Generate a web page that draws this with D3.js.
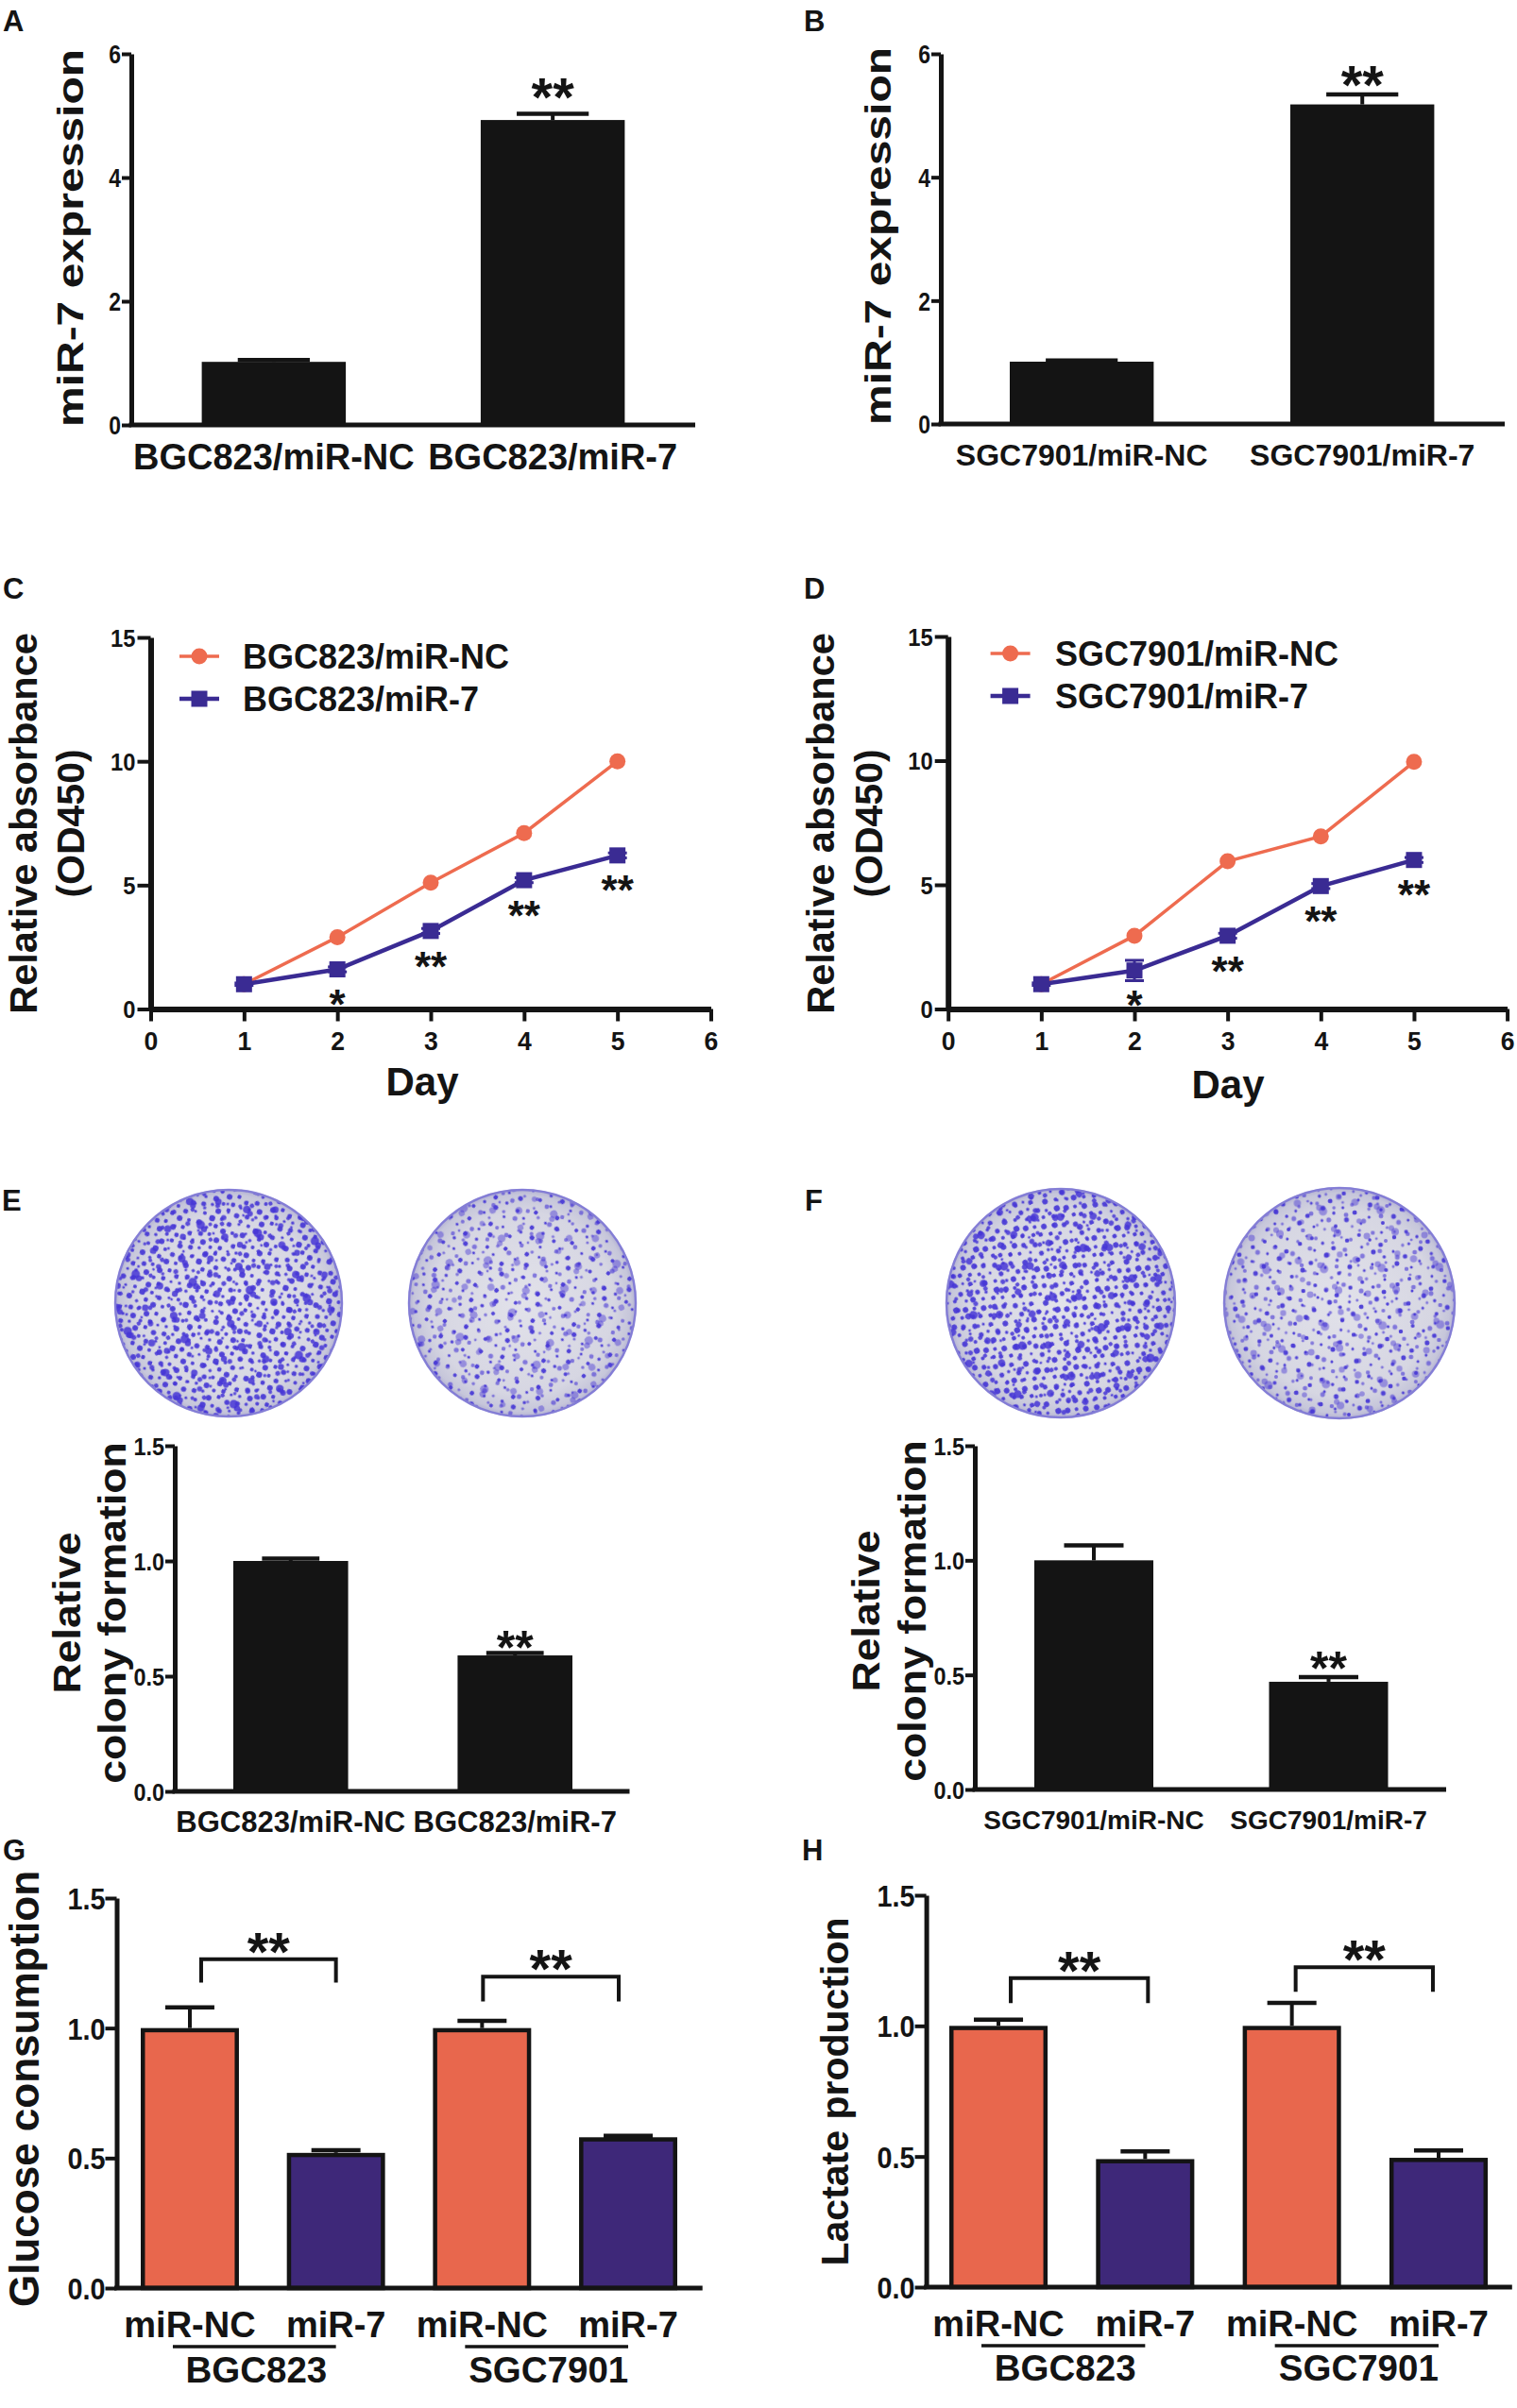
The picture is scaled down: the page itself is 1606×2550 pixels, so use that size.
<!DOCTYPE html>
<html><head><meta charset="utf-8">
<script src="https://cdn.jsdelivr.net/npm/d3@7"></script>
<style>
body{margin:0;background:#fff}
svg{display:block}
text{font-family:"Liberation Sans",Arial,Helvetica,sans-serif;font-weight:bold}
</style>
</head><body>
<svg id="fig" width="1606" height="2550"></svg>
<script>
// ---------------- DATA ----------------
const panelA_categories = ["BGC823/miR-NC", "BGC823/miR-7"];
const panelA_values = [1.02, 4.93];
const panelA_errors = [0.03, 0.10];
const panelA_signif = ["", "**"];

const panelB_categories = ["SGC7901/miR-NC", "SGC7901/miR-7"];
const panelB_values = [1.01, 5.18];
const panelB_errors = [0.02, 0.16];
const panelB_signif = ["", "**"];

const expr_yTicks = [0, 2, 4, 6];

const days = [1, 2, 3, 4, 5];
const day_xTicks = [0, 1, 2, 3, 4, 5, 6];
const absorb_yTicks = [0, 5, 10, 15];
const panelC_series = ["BGC823/miR-NC", "BGC823/miR-7"];
const panelC_nc = [1.0, 2.9, 5.1, 7.1, 10.0];
const panelC_mir7 = [1.0, 1.6, 3.15, 5.2, 6.2];
const panelC_mir7_err = [0.05, 0.1, 0.1, 0.1, 0.1];
const panelC_signif = ["", "*", "**", "**", "**"];
const panelD_series = ["SGC7901/miR-NC", "SGC7901/miR-7"];
const panelD_nc = [1.0, 2.95, 5.95, 6.95, 9.95];
const panelD_mir7 = [1.0, 1.55, 2.95, 4.95, 6.0];
const panelD_mir7_err = [0.05, 0.41, 0.1, 0.1, 0.1];
const panelD_signif = ["", "*", "**", "**", "**"];

const colony_yTicks = [0, 0.5, 1.0, 1.5];
const panelE_categories = ["BGC823/miR-NC", "BGC823/miR-7"];
const panelE_values = [1.0, 0.59];
const panelE_errors = [0.01, 0.01];
const panelE_signif = ["", "**"];
const panelF_categories = ["SGC7901/miR-NC", "SGC7901/miR-7"];
const panelF_values = [1.0, 0.47];
const panelF_errors = [0.065, 0.02];
const panelF_signif = ["", "**"];

const metab_categories = ["miR-NC", "miR-7", "miR-NC", "miR-7"];
const metab_groups = ["BGC823", "SGC7901"];
const metab_yTicks = [0, 0.5, 1.0, 1.5];
const panelG_values = [1.0, 0.52, 1.0, 0.58];
const panelG_errors = [0.08, 0.01, 0.028, 0.006];
const panelH_values = [1.0, 0.49, 1.0, 0.495];
const panelH_errors = [0.024, 0.03, 0.088, 0.028];
const metab_signif = ["**", "**"];

// ---------------- STYLE ----------------
const BLACK = "#141414";
const ORANGE_BAR = "#E8674D";
const PURPLE_BAR = "#3E2879";
const ORANGE_LINE = "#EE6B4F";
const PURPLE_LINE = "#3A2B93";
const DOT = "#4636D6";

const svg = d3.select("#fig");
svg.append("rect").attr("width", 1606).attr("height", 2550).attr("fill", "#fff");

function label(g, s, x, y, o = {}) {
  const size = o.size || 30, sx = o.sx || 1;
  let tr = `translate(${x},${y}) scale(${sx},1)`;
  if (o.rot) tr += ` rotate(${o.rot})`;
  return g.append("text").text(s)
    .attr("font-size", size)
    .attr("text-anchor", o.anchor || "middle")
    .attr("fill", o.fill || BLACK)
    .attr("transform", tr);
}
function stars(g, s, cx, cy, size) {
  return label(g, s, cx, cy + size * 0.56, { size });
}
function yAxis(g, y, p) {
  const ax = g.append("g").attr("transform", `translate(${p.axX},0)`)
    .call(d3.axisLeft(y).tickValues(p.ticks).tickFormat(p.fmt).tickSize(p.tickLen).tickSizeOuter(0));
  ax.attr("font-family", null).attr("font-size", null);
  ax.select(".domain").attr("stroke", BLACK).attr("stroke-width", p.axisW || 5);
  ax.selectAll(".tick line").attr("stroke", BLACK).attr("stroke-width", 4);
  ax.selectAll(".tick text")
    .attr("x", null).attr("dy", null).attr("fill", BLACK)
    .attr("font-size", p.tickFont)
    .attr("transform", `translate(${-(p.tickLen + (p.tickGap ?? 2))},${p.tickFont * 0.36}) scale(${p.tickSx},1)`);
  return ax;
}
function yTitles(g, p) {
  p.titles.forEach(t => label(g, t.text, t.x, p.titleY, { size: t.size, sx: t.sx || 1, rot: -90 }));
}

// ---------------- BAR PANELS ----------------
function barPanel(p) {
  const g = svg.append("g");
  const y = d3.scaleLinear().domain([0, p.yMax]).range([p.y0, p.y1]);
  const x = d3.scaleBand().domain(p.values.map((d, i) => i)).range(p.barRange)
    .paddingInner(p.padIn).paddingOuter(0);
  const bw = x.bandwidth();
  const xc = i => x(i) + bw / 2;
  const sw = p.barStroke || 0;
  g.selectAll(".bar").data(p.values).join("rect").attr("class", "bar")
    .attr("x", (d, i) => x(i) + sw / 2).attr("width", bw - sw)
    .attr("y", d => y(d) + sw / 2).attr("height", d => y(0) - y(d) - sw / 2)
    .attr("fill", (d, i) => p.fills[i])
    .attr("stroke", sw ? BLACK : "none").attr("stroke-width", sw);
  const eb = g.selectAll(".err").data(p.values).join("g").attr("class", "err");
  eb.append("line")
    .attr("x1", (d, i) => xc(i)).attr("x2", (d, i) => xc(i))
    .attr("y1", d => y(d)).attr("y2", (d, i) => y(d + p.errors[i]))
    .attr("stroke", BLACK).attr("stroke-width", 4);
  eb.append("line")
    .attr("x1", (d, i) => xc(i) - bw / 4).attr("x2", (d, i) => xc(i) + bw / 4)
    .attr("y1", (d, i) => y(d + p.errors[i])).attr("y2", (d, i) => y(d + p.errors[i]))
    .attr("stroke", BLACK).attr("stroke-width", 4.5);
  yAxis(g, y, p);
  g.append("line").attr("x1", p.axX - 2.5).attr("x2", p.xEnd)
    .attr("y1", y(0)).attr("y2", y(0)).attr("stroke", BLACK).attr("stroke-width", 5);
  if (p.categories) {
    p.categories.forEach((c, i) => label(g, c, xc(i), p.labelY, { size: p.labelFont, sx: p.labelSx || 1 }));
  }
  if (p.signif) {
    p.signif.forEach((s, i) => { if (s) stars(g, s, xc(i), y(p.values[i] + p.errors[i]) - p.starGap, p.starFont); });
  }
  yTitles(g, p);
  return { g, x, y, xc, bw };
}

function metabPanel(p) {
  const r = barPanel(p);
  const { g, y, xc } = r;
  metab_categories.forEach((c, i) => label(g, c, xc(i), p.catY, { size: p.catFont }));
  metab_groups.forEach((grp, k) => {
    const a = xc(2 * k), b = xc(2 * k + 1);
    g.append("line").attr("x1", a - 18).attr("x2", b).attr("y1", p.underY).attr("y2", p.underY)
      .attr("stroke", BLACK).attr("stroke-width", 3.5);
    label(g, grp, (a - 18 + b) / 2 + 2, p.groupY, { size: p.groupFont });
  });
  p.brackets.forEach((br, k) => {
    const a = xc(2 * k) + br.dl, b = xc(2 * k + 1) + br.dr;
    g.append("path")
      .attr("d", `M${a},${y(br.leg)}V${y(br.top)}H${b}V${y(br.leg)}`)
      .attr("fill", "none").attr("stroke", BLACK).attr("stroke-width", 4);
    stars(g, metab_signif[k], (a + b) / 2, y(br.star), p.starFont);
  });
}

// ---------------- LINE PANELS ----------------
function linePanel(p) {
  const g = svg.append("g");
  const x = d3.scaleLinear().domain([0, 6]).range([p.x0, p.x6]);
  const y = d3.scaleLinear().domain([0, 15]).range([p.y0, p.y15]);
  const line = d3.line().x((d, i) => x(days[i])).y(d => y(d));
  g.append("path").attr("d", line(p.nc)).attr("fill", "none")
    .attr("stroke", ORANGE_LINE).attr("stroke-width", 3.5);
  g.selectAll(".nc").data(p.nc).join("circle").attr("class", "nc")
    .attr("cx", (d, i) => x(days[i])).attr("cy", d => y(d)).attr("r", 8.5).attr("fill", ORANGE_LINE);
  const eg = g.selectAll(".merr").data(p.mir7).join("g").attr("class", "merr");
  eg.append("line").attr("x1", (d, i) => x(days[i])).attr("x2", (d, i) => x(days[i]))
    .attr("y1", (d, i) => y(d - p.err[i])).attr("y2", (d, i) => y(d + p.err[i]))
    .attr("stroke", PURPLE_LINE).attr("stroke-width", 3);
  [1, -1].forEach(sg => eg.append("line")
    .attr("x1", (d, i) => x(days[i]) - 10).attr("x2", (d, i) => x(days[i]) + 10)
    .attr("y1", (d, i) => y(d + sg * p.err[i])).attr("y2", (d, i) => y(d + sg * p.err[i]))
    .attr("stroke", PURPLE_LINE).attr("stroke-width", 3));
  g.append("path").attr("d", line(p.mir7)).attr("fill", "none")
    .attr("stroke", PURPLE_LINE).attr("stroke-width", 4.5);
  g.selectAll(".m7").data(p.mir7).join("rect").attr("class", "m7")
    .attr("x", (d, i) => x(days[i]) - 8.5).attr("y", d => y(d) - 8.5)
    .attr("width", 17).attr("height", 17).attr("fill", PURPLE_LINE);
  p.signif.forEach((s, i) => { if (s) stars(g, s, x(days[i]), y(p.mir7[i]) + 28, 44); });

  yAxis(g, y, { axX: p.x0, ticks: absorb_yTicks, fmt: d3.format("d"), tickLen: 14, tickGap: 2, tickFont: 25, tickSx: 0.95, axisW: 6 });
  const xa = g.append("g").attr("transform", `translate(0,${p.y0})`)
    .call(d3.axisBottom(x).tickValues(day_xTicks).tickFormat(d3.format("d")).tickSize(13).tickSizeOuter(0));
  xa.attr("font-family", null).attr("font-size", null);
  xa.select(".domain").attr("stroke", BLACK).attr("stroke-width", 6);
  xa.selectAll(".tick line").attr("stroke", BLACK).attr("stroke-width", 4);
  xa.selectAll(".tick text").attr("y", null).attr("dy", null).attr("fill", BLACK)
    .attr("font-size", 28).attr("transform", `translate(0,43.5) scale(0.95,1)`);
  label(g, "Day", p.dayX, p.dayY, { size: 42 });
  yTitles(g, p);

  // legend
  const rows = [
    { name: p.series[0], y: p.legY[0], color: ORANGE_LINE, shape: "circle", w: 3.5 },
    { name: p.series[1], y: p.legY[1], color: PURPLE_LINE, shape: "square", w: 4.5 }
  ];
  rows.forEach(r => {
    g.append("line").attr("x1", p.legX - 21).attr("x2", p.legX + 21).attr("y1", r.y).attr("y2", r.y)
      .attr("stroke", r.color).attr("stroke-width", r.w);
    if (r.shape === "circle") g.append("circle").attr("cx", p.legX).attr("cy", r.y).attr("r", 8.5).attr("fill", r.color);
    else g.append("rect").attr("x", p.legX - 8.5).attr("y", r.y - 8.5).attr("width", 17).attr("height", 17).attr("fill", r.color);
    label(g, r.name, p.legTextX, r.y + 13, { size: 36, anchor: "start" });
  });
}

// ---------------- DISH TEXTURES (decoration) ----------------
const denseDots = [[3,4,2.6],[12,2,1.8],[20,7,3],[30,3,2.2],[40,6,2.8],[45,14,1.6],[7,13,2],[16,16,3.2],[26,14,2],[35,17,2.6],[4,24,3],[13,27,1.8],[22,23,2.4],[31,26,3],[41,25,2],[9,35,2.6],[18,33,2],[27,37,3],[37,34,2.2],[46,38,2.6],[3,44,1.8],[14,43,3],[23,46,2],[33,44,2.4],[42,45,1.6]];
const sparseDots = [[5,6,2],[18,4,1.6],[31,9,2.4],[43,3,1.5],[10,19,2.2],[25,21,1.6],[38,18,2.6],[4,32,1.6],[17,34,2.4],[30,31,1.8],[44,30,2],[11,45,1.8],[24,42,2.6],[37,44,1.6]];
const fillerDots = [[4,5,2],[15,11,2.4],[27,4,1.6],[33,19,2.2],[8,24,1.8],[21,29,2.6],[31,33,1.6],[2,15,1.4]];
const clumpDots = [[10,12,4],[14,16,3],[40,8,3.5],[25,35,4.5],[29,39,3.2],[52,44,3.8],[8,50,3.2],[48,24,2.8]];

const defs = svg.append("defs");
const grad = defs.append("radialGradient").attr("id", "dishBg");
[[0, "#E2E2EA"], [0.8, "#D6D6E2"], [0.95, "#C6C6DA"], [1, "#B0AED2"]]
  .forEach(([o, c]) => grad.append("stop").attr("offset", o).attr("stop-color", c));
function makePattern(id, dots, tile, rot, opacity) {
  const pt = defs.append("pattern").attr("id", id).attr("patternUnits", "userSpaceOnUse")
    .attr("width", tile).attr("height", tile).attr("patternTransform", `rotate(${rot})`);
  dots.forEach(([cx, cy, r]) => pt.append("circle").attr("cx", cx).attr("cy", cy).attr("r", r)
    .attr("fill", DOT).attr("fill-opacity", opacity));
}
function dish(cx, cy, r, k, dense) {
  makePattern("pa" + k, dense ? denseDots : sparseDots, dense ? 48 : 50, 17 + k * 23, 0.92);
  makePattern("pb" + k, fillerDots, 37, -31 + k * 41, dense ? 0.85 : 0.6);
  makePattern("pc" + k, clumpDots, 61, 8 + k * 57, dense ? 0.85 : 0.45);
  const g = svg.append("g");
  g.append("circle").attr("cx", cx).attr("cy", cy).attr("r", r).attr("fill", "url(#dishBg)");
  ["pa", "pb", "pc"].forEach(pre => g.append("circle").attr("cx", cx).attr("cy", cy).attr("r", r - 2)
    .attr("fill", `url(#${pre}${k})`));
  g.append("circle").attr("cx", cx).attr("cy", cy).attr("r", r - 1).attr("fill", "none")
    .attr("stroke", "#6F66D6").attr("stroke-width", 2.5).attr("stroke-opacity", 0.7);
}
dish(242, 1380, 121, 0, true);
dish(553, 1380, 121, 1, false);
dish(1123, 1380, 122, 2, true);
dish(1418, 1380, 123, 3, false);

// ---------------- PANELS ----------------
barPanel({
  values: panelA_values, errors: panelA_errors, categories: panelA_categories, signif: panelA_signif,
  yMax: 6, y0: 450, y1: 57, axX: 139, xEnd: 736, ticks: expr_yTicks, fmt: d3.format("d"),
  tickLen: 10, tickGap: 1, tickFont: 27, tickSx: 0.85,
  barRange: [213.6, 661.4], padIn: 0.4836, fills: [BLACK, BLACK],
  labelY: 497, labelFont: 38, starGap: 30, starFont: 58,
  titleY: 252, titles: [{ text: "miR-7 expression", x: 88, size: 48, sx: 0.8 }]
});
barPanel({
  values: panelB_values, errors: panelB_errors, categories: panelB_categories, signif: panelB_signif,
  yMax: 6, y0: 449, y1: 57, axX: 996, xEnd: 1593, ticks: expr_yTicks, fmt: d3.format("d"),
  tickLen: 10, tickGap: 1, tickFont: 27, tickSx: 0.85,
  barRange: [1069, 1518.4], padIn: 0.487, fills: [BLACK, BLACK],
  labelY: 493, labelFont: 32, starGap: 23, starFont: 58,
  titleY: 250, titles: [{ text: "miR-7 expression", x: 943, size: 48, sx: 0.8 }]
});
linePanel({
  nc: panelC_nc, mir7: panelC_mir7, err: panelC_mir7_err, signif: panelC_signif, series: panelC_series,
  x0: 159.5, x6: 752.5, y0: 1068.5, y15: 675, dayX: 447, dayY: 1160,
  legX: 211, legY: [695, 740], legTextX: 257,
  titleY: 872, titles: [{ text: "Relative absorbance", x: 39, size: 41.5 }, { text: "(OD450)", x: 89, size: 41 }]
});
linePanel({
  nc: panelD_nc, mir7: panelD_mir7, err: panelD_mir7_err, signif: panelD_signif, series: panelD_series,
  x0: 1003.7, x6: 1595.6, y0: 1068.5, y15: 674, dayX: 1300, dayY: 1163,
  legX: 1069.6, legY: [692, 737], legTextX: 1117,
  titleY: 872, titles: [{ text: "Relative absorbance", x: 883, size: 41.5 }, { text: "(OD450)", x: 933.5, size: 41 }]
});
barPanel({
  values: panelE_values, errors: panelE_errors, categories: panelE_categories, signif: panelE_signif,
  yMax: 1.5, y0: 1897, y1: 1531, axX: 185, xEnd: 666.5, ticks: colony_yTicks, fmt: d3.format(".1f"),
  tickLen: 10, tickGap: 1, tickFont: 26, tickSx: 0.9,
  barRange: [247, 606], padIn: 0.488, fills: [BLACK, BLACK],
  labelY: 1940, labelFont: 31, starGap: 17, starFont: 50,
  titleY: 1708, titles: [{ text: "Relative", x: 85, size: 44.6, sx: 0.92 }, { text: "colony formation", x: 133, size: 44.6, sx: 0.9 }]
});
barPanel({
  values: panelF_values, errors: panelF_errors, categories: panelF_categories, signif: panelF_signif,
  yMax: 1.5, y0: 1895, y1: 1531, axX: 1032, xEnd: 1531, ticks: colony_yTicks, fmt: d3.format(".1f"),
  tickLen: 10, tickGap: 1, tickFont: 26, tickSx: 0.9,
  barRange: [1095, 1469.5], padIn: 0.493, fills: [BLACK, BLACK],
  labelY: 1937, labelFont: 28, starGap: 20, starFont: 50,
  titleY: 1706, titles: [{ text: "Relative", x: 931, size: 44.6, sx: 0.92 }, { text: "colony formation", x: 980, size: 44.6, sx: 0.9 }]
});
metabPanel({
  values: panelG_values, errors: panelG_errors,
  yMax: 1.5, y0: 2423, y1: 2010, axX: 123.5, xEnd: 743.7, ticks: metab_yTicks, fmt: d3.format(".1f"),
  tickLen: 12, tickGap: 0, tickFont: 32, tickSx: 0.9,
  barRange: [149, 717], padIn: 0.328, fills: [ORANGE_BAR, PURPLE_BAR, ORANGE_BAR, PURPLE_BAR], barStroke: 4.5,
  catY: 2475, catFont: 38, underY: 2485, groupY: 2523, groupFont: 38.5, starFont: 58,
  brackets: [{ top: 1.265, leg: 1.175, star: 1.337, dl: 12, dr: 0 }, { top: 1.198, leg: 1.102, star: 1.273, dl: 1, dr: -10 }],
  titleY: 2212, titles: [{ text: "Glucose consumption", x: 41, size: 44 }]
});
metabPanel({
  values: panelH_values, errors: panelH_errors,
  yMax: 1.5, y0: 2422, y1: 2007, axX: 980.6, xEnd: 1600.8, ticks: metab_yTicks, fmt: d3.format(".1f"),
  tickLen: 12, tickGap: 0, tickFont: 32, tickSx: 0.9,
  barRange: [1005, 1575], padIn: 0.33, fills: [ORANGE_BAR, PURPLE_BAR, ORANGE_BAR, PURPLE_BAR], barStroke: 4.5,
  catY: 2474, catFont: 38, underY: 2484, groupY: 2521, groupFont: 38.5, starFont: 58,
  brackets: [{ top: 1.183, leg: 1.087, star: 1.256, dl: 13, dr: 3 }, { top: 1.224, leg: 1.13, star: 1.30, dl: 4, dr: -6 }],
  titleY: 2215, titles: [{ text: "Lactate production", x: 898, size: 41 }]
});

// panel letters
[["A", 3, 33], ["B", 851, 33], ["C", 3, 634], ["D", 851, 634], ["E", 2, 1282], ["F", 852, 1282], ["G", 3, 1970], ["H", 849, 1970]]
  .forEach(([s, x, y]) => label(svg, s, x, y, { size: 31, anchor: "start" }));
</script>
</body></html>
